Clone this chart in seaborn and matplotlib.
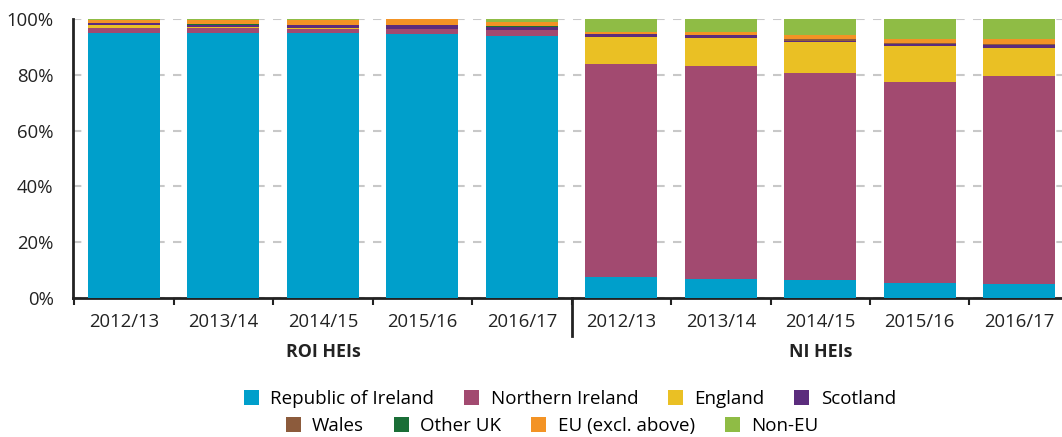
import numpy as np
import pandas as pd
import seaborn as sns
import matplotlib.pyplot as plt
from matplotlib.patches import Patch
from matplotlib.lines import Line2D

years = ['2012/13', '2013/14', '2014/15', '2015/16', '2016/17']
groups = ['ROI HEIs', 'NI HEIs']
origins = ['Republic of Ireland', 'Northern Ireland', 'England', 'Scotland',
           'Wales', 'Other UK', 'EU (excl. above)', 'Non-EU']
colors = ['#009fcb', '#a24a70', '#eac024', '#5b2c7d',
          '#8c5b3c', '#1a6e37', '#f39325', '#8fbc45']

# share of students (%) by domicile, ROI HEIs 2012/13 .. 2016/17
roi_roi = [95.0, 95.0, 95.0, 94.7, 93.9]
roi_ni = [1.8, 1.8, 1.5, 1.7, 2.1]
roi_eng = [1.1, 0.2, 0.1, 0.1, 0.1]
roi_sco = [0.7, 0.9, 1.3, 1.4, 1.0]
roi_wal = [0.0, 0.0, 0.0, 0.0, 0.0]
roi_oth = [0.0, 0.3, 0.1, 0.1, 0.3]
roi_eu = [1.0, 1.4, 1.5, 1.9, 1.6]
roi_non = [0.4, 0.4, 0.5, 0.1, 1.1]

# NI HEIs 2012/13 .. 2016/17
ni_roi = [7.5, 6.8, 6.5, 5.4, 5.1]
ni_ni = [76.3, 76.3, 74.2, 72.0, 74.4]
ni_eng = [9.7, 10.0, 11.1, 12.9, 10.0]
ni_sco = [1.0, 1.1, 0.4, 0.8, 1.1]
ni_wal = [0.1, 0.0, 0.7, 0.3, 0.3]
ni_oth = [0.1, 0.1, 0.1, 0.1, 0.1]
ni_eu = [0.7, 1.1, 1.2, 1.4, 1.7]
ni_non = [4.6, 4.6, 5.8, 7.1, 7.3]

roi_vals = [roi_roi, roi_ni, roi_eng, roi_sco, roi_wal, roi_oth, roi_eu, roi_non]
ni_vals = [ni_roi, ni_ni, ni_eng, ni_sco, ni_wal, ni_oth, ni_eu, ni_non]

keys = [g + ' ' + y for g in groups for y in years]
df = pd.DataFrame({o: r + n for o, r, n in zip(origins, roi_vals, ni_vals)})
cum = df[origins].cumsum(axis=1)
cum['key'] = keys

plt.rcParams['font.family'] = ['Open Sans', 'DejaVu Sans']
fig = plt.figure(figsize=(10.62, 4.37), dpi=100)
ax = fig.add_axes([0.0687, 0.3181, 0.9313, 0.6384])

# stack by drawing cumulative totals from the top down
for o, c in reversed(list(zip(origins, colors))):
    sns.barplot(data=cum, x='key', y=o, order=keys, color=c, saturation=1,
                width=0.724, linewidth=0, errorbar=None, ax=ax, zorder=3)

ax.set_xlim(-0.513, 9.43)
ax.set_ylim(0, 100)
ax.set_yticks(range(0, 101, 20))
ax.set_yticklabels([f'{v}%' for v in range(0, 101, 20)], fontsize=13.3, color='#222222')
ax.tick_params(axis='y', length=0, pad=14)
ax.yaxis.grid(True, linestyle=(0, (4, 4)), color='#c8c8c8', linewidth=1.5, zorder=0)
ax.set_axisbelow(True)

ax.set_xticks(np.arange(-0.5, 9, 1.0))
ax.set_xticklabels([])
ax.set_xticks(np.arange(10), minor=True)
ax.set_xticklabels(years * 2, minor=True, fontsize=13.3, color='#222222')
ax.tick_params(axis='x', which='major', length=5, width=1.5, color='#222222', direction='out')
ax.tick_params(axis='x', which='minor', length=0, pad=11)
ax.set_xlabel('')
ax.set_ylabel('')

for s in ['top', 'right']:
    ax.spines[s].set_visible(False)
ax.spines['left'].set_linewidth(2)
ax.spines['bottom'].set_linewidth(2)
ax.spines['left'].set_color('#222222')
ax.spines['bottom'].set_color('#222222')

trans = ax.get_xaxis_transform()
ax.add_line(Line2D([4.5, 4.5], [0, -0.135], transform=trans, color='#222222',
                   linewidth=2, clip_on=False))
ax.text(2, -0.195, groups[0], transform=trans, ha='center', va='center',
        fontsize=12.8, fontweight='bold', color='#222222')
ax.text(7, -0.195, groups[1], transform=trans, ha='center', va='center',
        fontsize=12.8, fontweight='bold', color='#222222')

handles = [Patch(facecolor=c, edgecolor='none') for c in colors]
fig.legend(handles[:4], origins[:4], ncol=4, loc='center',
           bbox_to_anchor=(570 / 1062, 1 - 399 / 437), frameon=False,
           fontsize=13.5, handlelength=0.8, handleheight=0.8,
           handletextpad=0.6, columnspacing=1.6)
fig.legend(handles[4:], origins[4:], ncol=4, loc='center',
           bbox_to_anchor=(552 / 1062, 1 - 426 / 437), frameon=False,
           fontsize=13.5, handlelength=0.8, handleheight=0.8,
           handletextpad=0.6, columnspacing=1.6)

fig.savefig('out.png', dpi=100)
